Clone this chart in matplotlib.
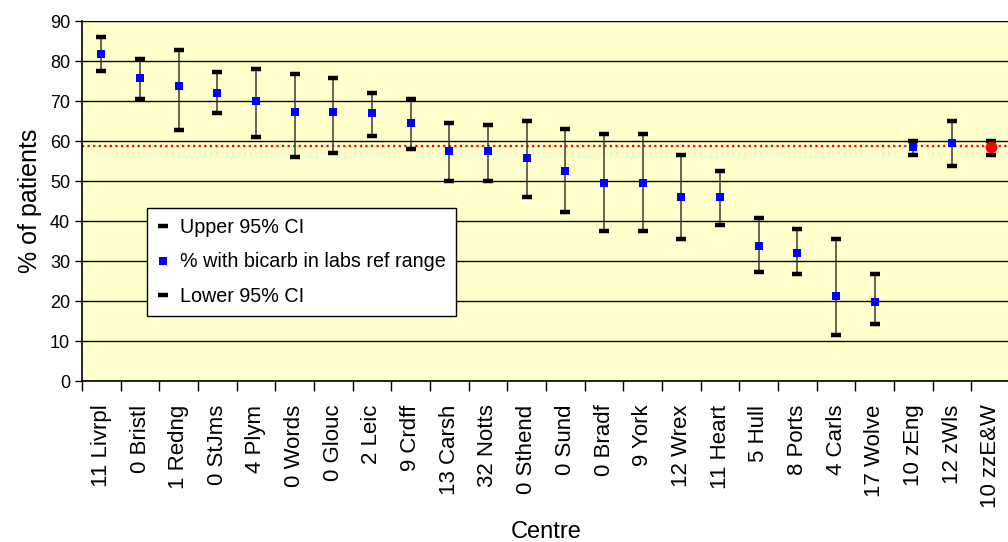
import matplotlib
matplotlib.use("Agg")
import matplotlib.pyplot as plt
from matplotlib.lines import Line2D
import numpy as np

plt.rcParams["font.family"] = ["Liberation Sans", "DejaVu Sans"]

# ── Data ──────────────────────────────────────────────────────────────
centres = [
    "11 Livrpl", "0 Bristl", "1 Redng", "0 StJms", "4 Plym", "0 Words",
    "0 Glouc", "2 Leic", "9 Crdff", "13 Carsh", "32 Notts", "0 Sthend",
    "0 Sund", "0 Bradf", "9 York", "12 Wrex", "11 Heart", "5 Hull",
    "8 Ports", "4 Carls", "17 Wolve", "10 zEng", "12 zWls", "10 zzE&W",
]
pct = [81.7, 75.7, 73.8, 71.9, 70.0, 67.3, 67.3, 66.9, 64.5, 57.5, 57.5, 55.7,
       52.4, 49.6, 49.6, 45.9, 45.9, 33.8, 31.9, 21.2, 19.8, 58.5, 59.5, 58.5]
upper_ci = [86.0, 80.4, 82.7, 77.2, 78.0, 76.7, 75.7, 72.0, 70.6, 64.5, 64.0, 65.0,
            63.1, 61.7, 61.7, 56.6, 52.5, 40.8, 38.0, 35.6, 26.8, 60.0, 65.0, 60.0]
lower_ci = [77.6, 70.6, 62.7, 66.9, 60.9, 56.1, 57.0, 61.3, 58.0, 50.1, 50.1, 46.0,
            42.2, 37.5, 37.5, 35.6, 38.9, 27.3, 26.8, 11.4, 14.2, 56.6, 53.8, 56.6]
national_mean = 58.8

# ── Plot ──────────────────────────────────────────────────────────────
fig = plt.figure(figsize=(10.08, 5.42), dpi=100)
ax = fig.add_axes([82 / 1008, 161 / 542, 928 / 1008, 360 / 542])
ax.set_facecolor("#FFFFCC")

x = np.arange(len(centres))
ax.set_xlim(-0.5, len(centres) - 0.5)
ax.set_ylim(0, 90)

ax.yaxis.grid(True, color="black", linewidth=1.0, zorder=1)
ax.set_axisbelow(True)

ax.axhline(national_mean, color="red", linestyle=(0, (1, 1.5)), linewidth=1.6, zorder=2)

ax.vlines(x, lower_ci, upper_ci, color="#3a3a30", linewidth=1.1, zorder=3)
ax.plot(x, upper_ci, linestyle="none", marker="_", color="black",
        markersize=7, markeredgewidth=3.2, zorder=4)
ax.plot(x, lower_ci, linestyle="none", marker="_", color="black",
        markersize=7, markeredgewidth=3.2, zorder=4)
ax.plot(x[:-1], pct[:-1], linestyle="none", marker="s", color="#0000FF",
        markersize=6, markeredgewidth=0, zorder=5)
ax.plot(x[-1:], pct[-1:], linestyle="none", marker="o", color="#FF0000",
        markersize=8.5, markeredgewidth=0, zorder=5)

# axes / ticks
for side in ("top", "right"):
    ax.spines[side].set_visible(False)
ax.spines["left"].set_linewidth(1.2)
ax.spines["bottom"].set_linewidth(1.2)

ax.set_yticks(np.arange(0, 91, 10))
ax.tick_params(axis="y", labelsize=13, length=5, width=1.0, direction="out")

ax.set_xticks(x)
ax.set_xticklabels(centres, rotation=90, fontsize=16)
ax.tick_params(axis="x", which="major", length=0, pad=17)
ax.set_xticks(np.arange(-0.5, len(centres), 1.0), minor=True)
ax.tick_params(axis="x", which="minor", length=7, width=1.0, direction="out")

ax.set_ylabel("% of patients", fontsize=18, labelpad=6)
ax.set_xlabel("Centre", fontsize=17, labelpad=9)

handles = [
    Line2D([], [], linestyle="none", marker="_", color="black",
           markersize=7, markeredgewidth=3.2),
    Line2D([], [], linestyle="none", marker="s", color="#0000FF",
           markersize=6, markeredgewidth=0),
    Line2D([], [], linestyle="none", marker="_", color="black",
           markersize=7, markeredgewidth=3.2),
]
labels = ["Upper 95% CI", "% with bicarb in labs ref range", "Lower 95% CI"]
leg = ax.legend(handles, labels, loc="upper left", bbox_to_anchor=(0.070, 0.48),
                fontsize=14.2, frameon=True, fancybox=False, edgecolor="black",
                framealpha=1.0, handlelength=0.6, handletextpad=0.6,
                labelspacing=0.78, borderpad=0.5, borderaxespad=0)
leg.get_frame().set_linewidth(1.0)
leg.set_zorder(6)

fig.savefig("out.png", dpi=100)
